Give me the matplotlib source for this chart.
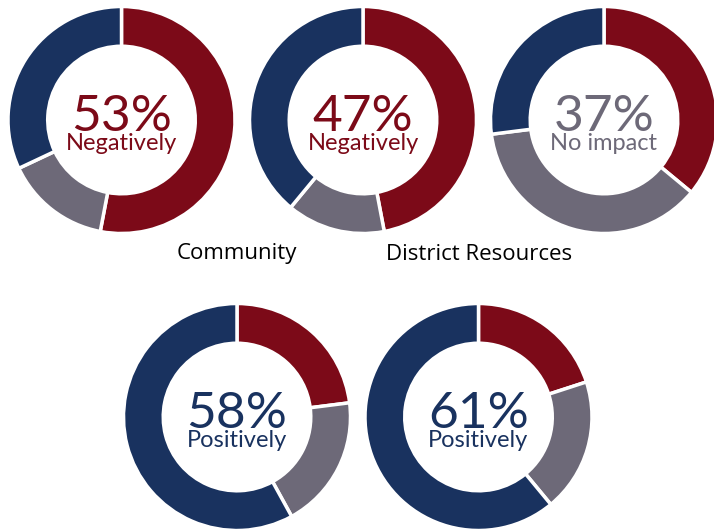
import matplotlib.pyplot as plt   # Used for plotting the donuts

# Share of answers per donut, clockwise from 12 o'clock: negative, no impact, positive
negatively = [53, 47, 36, 23, 20]
no_impact = [15, 14, 37, 19, 19]
positively = [32, 39, 27, 58, 61]

# Which answer is written in the middle of each donut
highlight = ["Negatively", "Negatively", "No impact", "Positively", "Positively"]

group_labels = ["Community", "District Resources"]

red = "#7C0A18"
gray = "#6D6978"
blue = "#19325F"
colors = [red, gray, blue]
text_color = {"Negatively": red, "No impact": gray, "Positively": blue}

# donut centres in pixels (x from left, y from top) and outer radius
centres = [(121.5, 120), (363, 120), (604, 120), (237, 417), (478.5, 417)]
R = 113.5
W, H = 714, 530

fig = plt.figure(figsize=(W / 100, H / 100), dpi=100)

for i, (cx, cy) in enumerate(centres):
    ax = fig.add_axes([(cx - R) / W, (H - cy - R) / H, 2 * R / W, 2 * R / H])
    values = [negatively[i], no_impact[i], positively[i]]
    ax.pie(values, colors=colors, startangle=90, counterclock=False,
           wedgeprops=dict(width=0.35, edgecolor="white", linewidth=2.5))
    ax.set_xlim(-1, 1)
    ax.set_ylim(-1, 1)
    ax.set_aspect("equal")
    ax.axis("off")

    word = highlight[i]
    value = values[["Negatively", "No impact", "Positively"].index(word)]
    ax.text(0, -0.1, f"{value}%", ha="center", va="baseline",
            fontsize=37, family="Lato", color=text_color[word])
    ax.text(0, -0.265, word, ha="center", va="baseline",
            fontsize=17, family="Lato", color=text_color[word])

# group captions under the top row
fig.text(237 / W, 1 - 254 / H, group_labels[0], ha="center", va="center",
         fontsize=16, family="Open Sans", color="black")
fig.text(479 / W, 1 - 254 / H, group_labels[1], ha="center", va="center",
         fontsize=16, family="Open Sans", color="black")

fig.savefig("out.png", dpi=100, facecolor="white")
